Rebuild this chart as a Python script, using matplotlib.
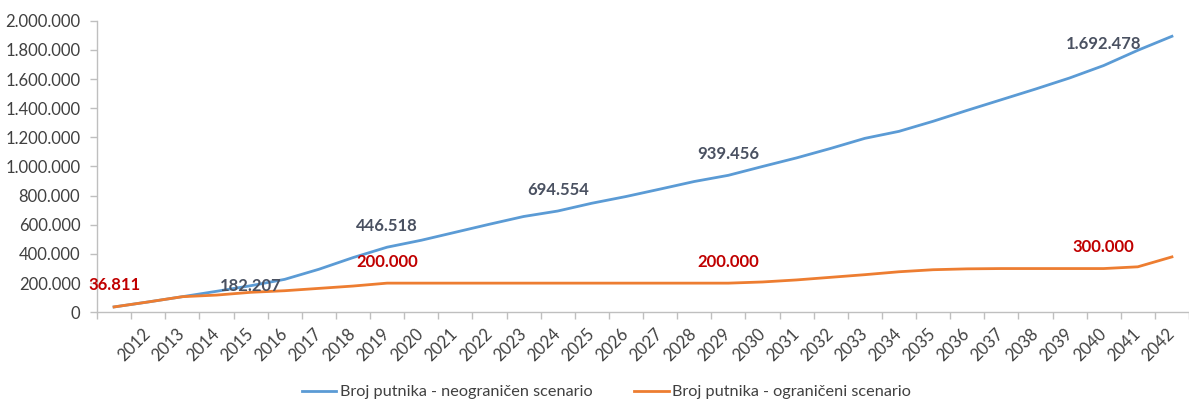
import matplotlib.pyplot as plt
import matplotlib.transforms as mtransforms
from matplotlib.ticker import FuncFormatter, FixedLocator

# first category has no label in the source chart
years = [''] + [str(y) for y in range(2012, 2043)]

neograniceni = [36811, 71000, 107000, 144000, 182207, 226000, 295000, 375000,
                446518, 494000, 549000, 604000, 657000, 694554, 748000, 794000,
                845000, 897000, 939456, 1000000, 1059000, 1124000, 1193000, 1241000,
                1310000, 1385000, 1458000, 1531000, 1607000, 1692478, 1797000, 1893000]

ograniceni = [36811, 71000, 107000, 118000, 137000, 148000, 164000, 180000,
              200000, 200000, 200000, 200000, 200000, 200000, 200000, 200000,
              200000, 200000, 200000, 208000, 222000, 240000, 258000, 278000,
              292000, 298000, 300000, 300000, 300000, 300000, 312000, 380000]

# which points carry a data label, and label offset in points
blue_labels = {4: 0, 8: 15.5, 13: 15.5, 18: 15.5, 29: 15.5}
orange_labels = {0: 15.5, 8: 15.5, 18: 15.5, 29: 15.5}

blue = '#5B9BD5'
orange = '#ED7D31'
txt = '#404040'

plt.rcParams['font.family'] = ['Lato', 'DejaVu Sans']

fig = plt.figure(figsize=(11.89, 4.01), dpi=100)
ax = fig.add_axes([0.0816, 0.2212, 0.9184, 0.9484 - 0.2212])

x = list(range(len(years)))
ax.plot(x, neograniceni, color=blue, lw=2, label='Broj putnika - neograničen scenario', zorder=2)
ax.plot(x, ograniceni, color=orange, lw=2, label='Broj putnika - ograničeni scenario', zorder=3)

for i, off in blue_labels.items():
    ax.annotate(f'{neograniceni[i]:,}'.replace(',', '.'), (i, neograniceni[i]),
                xytext=(0, off), textcoords='offset points', ha='center', va='center',
                fontsize=12, fontweight='bold', color='#4A5161', zorder=5)
for i, off in orange_labels.items():
    ax.annotate(f'{ograniceni[i]:,}'.replace(',', '.'), (i, ograniceni[i]),
                xytext=(0, off), textcoords='offset points', ha='center', va='center',
                fontsize=12, fontweight='bold', color='#C00000', zorder=5)

ax.set_xlim(-0.5, len(years) - 0.5)
ax.set_ylim(0, 2000000)
ax.set_yticks(range(0, 2000001, 200000))
ax.yaxis.set_major_formatter(FuncFormatter(lambda v, p: f'{v:,.0f}'.replace(',', '.')))

ax.set_xticks(x)
ax.set_xticklabels(years, rotation=45, ha='right', va='center', rotation_mode='anchor')
shift = mtransforms.ScaledTranslation(3 / 100, 0, fig.dpi_scale_trans)
for lab in ax.get_xticklabels():
    lab.set_transform(lab.get_transform() + shift)
ax.xaxis.set_minor_locator(FixedLocator([i - 0.5 for i in range(len(years) + 1)]))
ax.tick_params(axis='x', which='major', length=0, pad=13.5, labelsize=12, labelcolor=txt)
ax.tick_params(axis='x', which='minor', length=5, width=1, color='#BFBFBF')
ax.tick_params(axis='y', length=5, width=1, color='#BFBFBF', pad=7, labelsize=12, labelcolor=txt)

for s in ['top', 'right']:
    ax.spines[s].set_visible(False)
for s in ['left', 'bottom']:
    ax.spines[s].set_color('#BFBFBF')
    ax.spines[s].set_linewidth(1)

fig.legend(loc='center', bbox_to_anchor=(0.51, 0.022), ncol=2, frameon=False,
           fontsize=11.7, handlelength=2.1, handletextpad=0.2, columnspacing=2.6,
           labelcolor=txt)

fig.savefig('out.png', dpi=100)
